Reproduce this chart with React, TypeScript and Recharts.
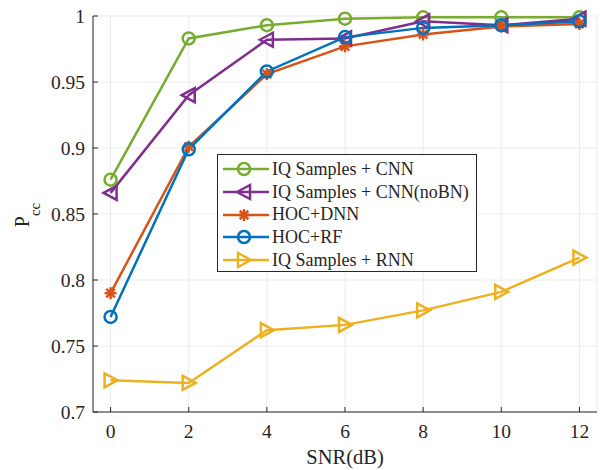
import { LineChart, Line, XAxis, YAxis, CartesianGrid } from "recharts";

const snr = [0, 2, 4, 6, 8, 10, 12];
const iqCnn = [0.876, 0.983, 0.993, 0.998, 0.999, 0.999, 0.999];
const iqCnnNoBn = [0.866, 0.94, 0.982, 0.983, 0.996, 0.993, 0.998];
const hocDnn = [0.79, 0.901, 0.956, 0.977, 0.986, 0.992, 0.994];
const hocRf = [0.772, 0.899, 0.958, 0.984, 0.991, 0.993, 0.996];
const iqRnn = [0.724, 0.722, 0.762, 0.766, 0.777, 0.791, 0.817];

const xTicks = [0, 2, 4, 6, 8, 10, 12];
const yTicks = [0.7, 0.75, 0.8, 0.85, 0.9, 0.95, 1];

const data = snr.map((s, i) => ({
  snr: s,
  cnn: iqCnn[i],
  nobn: iqCnnNoBn[i],
  dnn: hocDnn[i],
  rf: hocRf[i],
  rnn: iqRnn[i],
}));

const FONT = "Liberation Serif, Times New Roman, serif";
const INK = "#262626";

type Shape = "circle" | "left" | "star" | "right";

function Marker({ cx, cy, color, shape }: { cx: number; cy: number; color: string; shape: Shape }) {
  if (cx == null || cy == null) return null;
  const sw = 2.5;
  if (shape === "circle") {
    return <circle cx={cx} cy={cy} r={6} fill="none" stroke={color} strokeWidth={sw} />;
  }
  if (shape === "left") {
    const p = `${cx - 7},${cy} ${cx + 6},${cy - 7} ${cx + 6},${cy + 7}`;
    return <polygon points={p} fill="none" stroke={color} strokeWidth={sw} />;
  }
  if (shape === "right") {
    const p = `${cx + 7},${cy} ${cx - 6},${cy - 7} ${cx - 6},${cy + 7}`;
    return <polygon points={p} fill="none" stroke={color} strokeWidth={sw} />;
  }
  const r = 6;
  const d = r * 0.707;
  return (
    <g stroke={color} strokeWidth={2.5}>
      <line x1={cx - r} y1={cy} x2={cx + r} y2={cy} />
      <line x1={cx} y1={cy - r} x2={cx} y2={cy + r} />
      <line x1={cx - d} y1={cy - d} x2={cx + d} y2={cy + d} />
      <line x1={cx - d} y1={cy + d} x2={cx + d} y2={cy - d} />
    </g>
  );
}

const series = [
  { key: "cnn", name: "IQ Samples + CNN", color: "#77AC30", shape: "circle" as Shape },
  { key: "nobn", name: "IQ Samples + CNN(noBN)", color: "#7E2F8E", shape: "left" as Shape },
  { key: "dnn", name: "HOC+DNN", color: "#D95319", shape: "star" as Shape },
  { key: "rf", name: "HOC+RF", color: "#0072BD", shape: "circle" as Shape },
  { key: "rnn", name: "IQ Samples + RNN", color: "#EDB120", shape: "right" as Shape },
];

function LegendBox() {
  return (
    <div
      style={{
        position: "absolute",
        left: 217,
        top: 154,
        width: 260,
        height: 118,
        background: "#fff",
        border: `1px solid ${INK}`,
        boxSizing: "border-box",
        padding: "3px 0 0 4px",
        fontFamily: FONT,
        fontSize: 18,
        color: INK,
      }}
    >
      {series.map((s) => (
        <div key={s.key} style={{ display: "flex", alignItems: "center", height: 22.7 }}>
          <svg width={48} height={20} style={{ flexShrink: 0 }}>
            <line x1={1} y1={10} x2={47} y2={10} stroke={s.color} strokeWidth={2.5} />
            <Marker cx={22} cy={10} color={s.color} shape={s.shape} />
          </svg>
          <span style={{ marginLeft: 2, whiteSpace: "nowrap" }}>{s.name}</span>
        </div>
      ))}
    </div>
  );
}

const tickStyle = { fontFamily: FONT, fontSize: 19.5, fill: INK };

export default function App() {
  return (
    <div style={{ position: "absolute", left: 0, top: 0, width: 605, height: 470, background: "#fff" }}>
      <LineChart width={605} height={470} data={data} margin={{ top: 16, right: 8, left: 0, bottom: 0 }}>
        <CartesianGrid stroke="#ebebeb" strokeWidth={1} />
        <XAxis
          dataKey="snr"
          type="number"
          domain={[-0.45, 12.45]}
          ticks={xTicks}
          height={58}
          stroke={INK}
          tickSize={-5}
          tick={tickStyle}
          tickMargin={17}
          label={{ value: "SNR(dB)", position: "insideBottom", offset: 6, style: { fontFamily: FONT, fontSize: 20.5, fill: INK } }}
        />
        <XAxis
          xAxisId="top"
          orientation="top"
          dataKey="snr"
          type="number"
          domain={[-0.45, 12.45]}
          ticks={xTicks}
          height={0}
          stroke={INK}
          tickSize={-5}
          tickFormatter={() => ""}
        />
        <YAxis
          type="number"
          domain={[0.7, 1]}
          ticks={yTicks}
          width={93}
          stroke={INK}
          tickSize={-5}
          tick={tickStyle}
          tickMargin={13}
          tickFormatter={(v: number) => String(v)}
          label={{
            value: "P",
            content: () => (
              <text x={29} y={215} transform="rotate(-90 29 215)" fontFamily={FONT} fontSize={20} fill={INK} textAnchor="middle">
                P<tspan fontSize={15} dy={11}>cc</tspan>
              </text>
            ),
          }}
        />
        <YAxis
          yAxisId="right"
          orientation="right"
          domain={[0.7, 1]}
          ticks={yTicks}
          width={0}
          stroke={INK}
          tickSize={-5}
          tickFormatter={() => ""}
        />
        {series.map((s) => (
          <Line
            key={s.key}
            dataKey={s.key}
            name={s.name}
            stroke={s.color}
            strokeWidth={2.5}
            isAnimationActive={false}
            dot={(p: any) => <Marker key={`${s.key}-${p.index}`} cx={p.cx} cy={p.cy} color={s.color} shape={s.shape} />}
            activeDot={false}
          />
        ))}
      </LineChart>
      <LegendBox />
    </div>
  );
}
